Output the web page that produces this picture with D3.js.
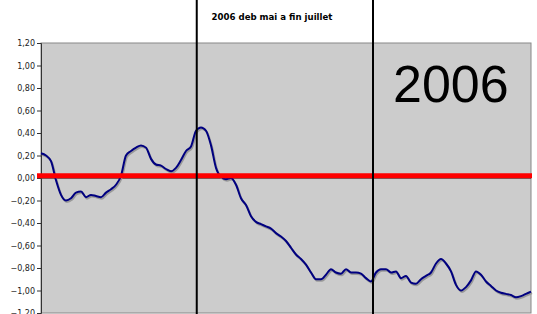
<!DOCTYPE html>
<html>
<head>
<meta charset="utf-8">
<script src="https://cdn.jsdelivr.net/npm/d3@7"></script>
<style>
  body { margin: 0; background: white; }
  svg { display: block; }
</style>
</head>
<body>
<div id="chart"></div>
<script>
// daily values, mai -> juillet 2006
const values = [
  0.22, 0.20, 0.15, -0.02, -0.15, -0.20, -0.18, -0.13, -0.12, -0.17,
  -0.15, -0.16, -0.17, -0.13, -0.10, -0.06, 0.02, 0.20, 0.24, 0.27,
  0.29, 0.27, 0.17, 0.12, 0.11, 0.08, 0.06, 0.09, 0.16, 0.24,
  0.28, 0.42, 0.45, 0.42, 0.29, 0.09, 0.01, -0.01, 0.00, -0.06,
  -0.18, -0.24, -0.34, -0.39, -0.41, -0.43, -0.45, -0.49, -0.52, -0.56,
  -0.62, -0.68, -0.72, -0.77, -0.84, -0.90, -0.90, -0.86, -0.81, -0.84,
  -0.85, -0.81, -0.84, -0.84, -0.85, -0.89, -0.92, -0.84, -0.81, -0.81,
  -0.84, -0.83, -0.89, -0.87, -0.93, -0.94, -0.90, -0.87, -0.84, -0.76,
  -0.72, -0.76, -0.83, -0.95, -1.00, -0.97, -0.91, -0.83, -0.86, -0.92,
  -0.96, -1.00, -1.02, -1.03, -1.04, -1.06, -1.05, -1.03, -1.01
];
const yTicks = [1.2, 1.0, 0.8, 0.6, 0.4, 0.2, 0, -0.2, -0.4, -0.6, -0.8, -1.0, -1.2];
const markers = [31.15, 66.4];   // month boundaries (index positions)
const refLevel = 0.02;
const title = "2006 deb mai a fin juillet";
const yearLabel = "2006";

const width = 537, height = 314;
const plot = { left: 41, right: 531, top: 43, bottom: 313 };

const svg = d3.select("#chart").append("svg")
  .attr("width", width)
  .attr("height", height);

const x = d3.scaleLinear()
  .domain([0, values.length - 1])
  .range([plot.left, plot.right]);

const y = d3.scaleLinear()
  .domain([-1.2, 1.2])
  .range([plot.bottom, plot.top]);

// plot area
svg.append("rect")
  .attr("x", plot.left)
  .attr("y", plot.top)
  .attr("width", plot.right - plot.left)
  .attr("height", plot.bottom - plot.top)
  .attr("fill", "#cccccc")
  .attr("stroke", "#888")
  .attr("stroke-width", 1);

// y axis
const fmt = d => d3.format(".2f")(d).replace(".", ",");
const yAxis = svg.append("g")
  .attr("transform", `translate(${plot.left},0)`)
  .call(d3.axisLeft(y).tickValues(yTicks).tickFormat(fmt).tickSize(4).tickPadding(2));
yAxis.select(".domain").attr("stroke", "#333");
yAxis.selectAll(".tick line").attr("stroke", "#333");
yAxis.selectAll("text")
  .attr("fill", "#222")
  .style("font-family", "DejaVu Sans")
  .style("font-size", "8px");

// zero axis
svg.append("line")
  .attr("x1", plot.left).attr("x2", plot.right)
  .attr("y1", y(0)).attr("y2", y(0))
  .attr("stroke", "#444")
  .attr("stroke-width", 1.5);

// series
const line = d3.line()
  .x((d, i) => x(i))
  .y(d => y(d))
  .curve(d3.curveMonotoneX);

svg.append("path")
  .datum(values)
  .attr("d", line)
  .attr("transform", "translate(1,1.5)")
  .attr("fill", "none")
  .attr("stroke", "#999")
  .attr("stroke-width", 2);

svg.append("path")
  .datum(values)
  .attr("d", line)
  .attr("fill", "none")
  .attr("stroke", "#000080")
  .attr("stroke-width", 2);

// reference level
svg.append("line")
  .attr("x1", 37).attr("x2", plot.right + 1)
  .attr("y1", y(refLevel)).attr("y2", y(refLevel))
  .attr("stroke", "#ff0000")
  .attr("stroke-width", 5);

// month markers
svg.selectAll("line.marker")
  .data(markers)
  .enter()
  .append("line")
  .attr("class", "marker")
  .attr("x1", d => x(d)).attr("x2", d => x(d))
  .attr("y1", 0).attr("y2", height)
  .attr("stroke", "black")
  .attr("stroke-width", 2);

// title
svg.append("text")
  .attr("x", 272)
  .attr("y", 20)
  .attr("text-anchor", "middle")
  .style("font-family", "DejaVu Sans")
  .style("font-weight", "bold")
  .style("font-size", "8.6px")
  .attr("fill", "black")
  .text(title);

svg.append("text")
  .attr("x", 393)
  .attr("y", 101.5)
  .style("font-family", "Liberation Sans")
  .style("font-size", "52px")
  .attr("fill", "black")
  .text(yearLabel);
</script>
</body>
</html>
